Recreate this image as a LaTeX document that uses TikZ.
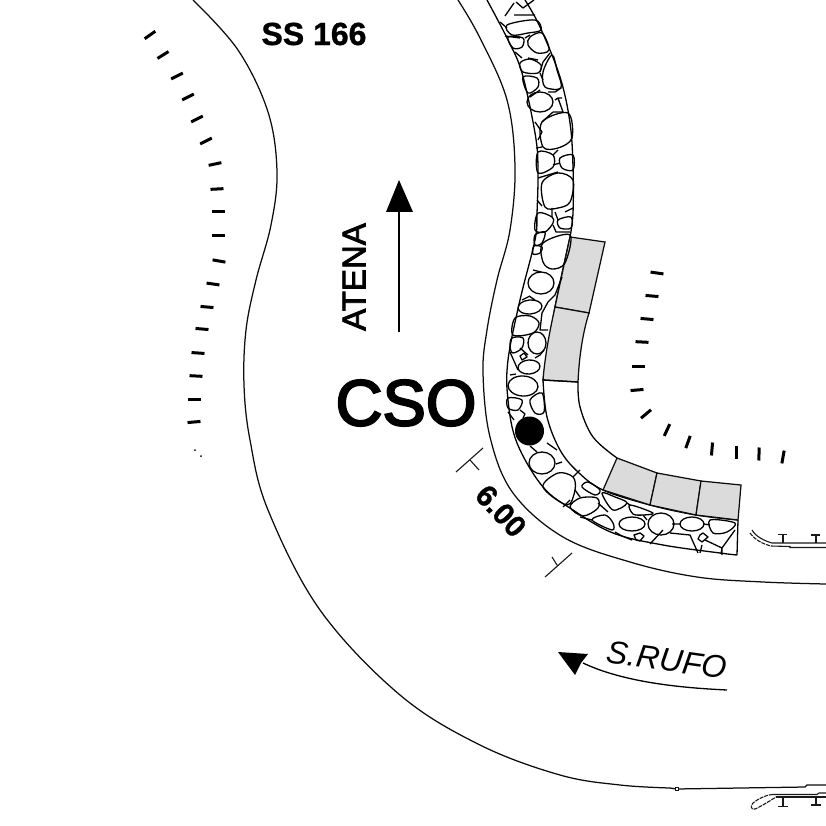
\documentclass[tikz,border=0pt]{standalone}
\usepackage{fontspec}
\setmainfont{Liberation Sans}
\newfontfamily\fatA[FakeBold=2.4]{Liberation Sans}
\newfontfamily\fatB[FakeBold=3.2]{Liberation Sans}
\newfontfamily\fatC[FakeBold=1.0,BoldFont={Liberation Sans Bold}]{Liberation Sans Bold}
\tikzset{
  road/.style={line width=1.25pt,black!95},
  stone/.style={line width=1.3pt,black,line join=round},
  paver/.style={line width=1.25pt,black!95,fill=black!14},
  tick/.style={line width=3pt,black},
  fix/.style={line width=1.1pt,black!90},
  lab/.style={inner sep=0pt,text=black},
}
\newcommand{\tk}[3]{\draw[tick] (#1,#2) ++(#3:-6.5) -- ++(#3:13);}
\newcommand{\stn}[1]{\draw[stone] plot[smooth cycle,tension=0.55] coordinates {#1};}
\newcommand{\elp}[5]{\draw[stone,rotate around={#5:(#1,#2)}] (#1,#2) ellipse (#3 and #4);}
\begin{document}
\begin{tikzpicture}[x=1pt,y=-1pt]
\useasboundingbox (0,0) rectangle (826,826);
\fill[white] (0,0) rectangle (826,826);
% roads
\draw[road] plot[smooth,tension=0.6] coordinates {(193,0) (238,50) (268,112) (277,172) (271,225) (256,280) (246,330) (244,385) (250,440) (268,510) (320,610) (400,695) (480,745) (560,775) (620,785) (670,788)};
\draw[road] (670,788) -- (676,789) -- (805,787) -- (807,785) -- (826,785);
\draw[fix,fill=white] (675.5,787.5) rectangle (678.5,790.5);
\draw[road] plot[smooth,tension=0.6] coordinates {(458,0) (480,38) (507,100) (515,167) (510,230) (497,280) (487,330) (483,373) (490,437) (513,493) (563,537) (630,562) (697,577) (763,582) (826,584)};
% stone band edges
\draw[stone] plot[smooth,tension=0.6] coordinates {(487,0) (508,40) (522,73) (535,133) (538,167) (537,213) (535,240) (520,300) (508,360) (508,400) (517,443) (543,487) (573,510) (613,533) (663,545) (720,553) (737,555)};
\draw[stone] (737,555) -- (738,520);
\draw[stone] plot[smooth,tension=0.6] coordinates {(525,0) (540,27) (560,77) (570,123) (573,167) (573,213) (570,237)};
\draw[stone] plot[smooth,tension=0.6] coordinates {(570,237) (555,307) (543,380)};
\draw[stone] plot[smooth,tension=0.6] coordinates {(543,380) (547,417) (560,450) (578,472) (603,490) (650,505) (696,515) (738,520)};
% pavement
\draw[stone] plot[smooth,tension=0.6] coordinates {(578,382) (580,407) (593,437) (617,458)};
\draw[paver] (570,237) -- (605,242) -- (589,313) -- (555,307) -- cycle;
\draw[paver] (555,307) -- (589,313) .. controls (582,335) and (579,360) .. (578,382) -- (543,380) .. controls (545,355) and (550,330) .. (555,307);
\draw[stone] (543,380) -- (578,382);
\draw[paver] (617,458) -- (657,473) -- (650,505) -- (603,490) -- cycle;
\draw[paver] (657,473) -- (701,481) -- (696,515) -- (650,505) -- cycle;
\draw[paver] (701,481) -- (741,485) -- (738,520) -- (696,515) -- cycle;
% stones, upper stretch
\stn{(507,25) (535,20) (541,30) (528,33) (512,35)}
\stn{(508,37) (523,38) (522,47) (513,48)}
\stn{(530,37) (542,33) (549,50) (537,53) (528,45)}
\stn{(520,63) (530,59) (541,65) (538,73) (523,72)}
\stn{(552,55) (543,72) (545,87) (561,88) (557,70)}
\elp{540}{102}{13}{10}{0}
\stn{(523,77) (537,78) (538,87) (528,93)}
\stn{(542,122) (568,113) (572,138) (558,148) (543,147)}
\stn{(538,152) (553,155) (553,167) (538,173)}
\stn{(560,158) (573,155) (573,170) (562,168)}
\stn{(542,183) (558,173) (573,180) (570,202) (558,208) (545,207)}
\stn{(538,213) (552,217) (553,223) (545,232) (535,230)}
\stn{(558,220) (571,217) (571,228) (560,228)}
\draw[stone] (505,16) -- (514,3) (514,15) -- (535,15) (516,2) -- (523,8) -- (534,0);
\draw[stone] (507,28) -- (500,22) (520,38) -- (505,36) (525,38) -- (530,35);
\draw[stone] (522,58) -- (515,52) (528,58) -- (538,60) (550,53) -- (543,62) -- (540,72);
\draw[stone] (540,73) -- (543,80) (540,90) -- (530,97) (561,88) -- (555,92) -- (548,92);
\draw[stone] (555,100) -- (558,98) -- (562,98) (553,112) -- (563,112) -- (558,98) (553,112) -- (542,122);
\draw[stone] (535,122) -- (542,132) -- (538,140) (536,148) -- (542,147);
\draw[stone] (553,165) -- (560,163) (553,155) -- (558,150);
\draw[stone] (538,178) -- (558,172) (537,200) -- (542,206) (555,212) -- (558,220) (552,208) -- (552,217) (573,208) -- (565,212);
\draw[stone] (553,225) -- (556,232) -- (570,232);
% stones, bend
\stn{(543,243) (570,235) (565,263) (552,269) (543,262)}
\stn{(535,235) (545,232) (542,243) (535,245)}
\stn{(533,254) (540,253) (542,247) (534,246)}
\elp{541}{283}{13}{11}{0}
\elp{530}{307}{12}{7}{5}
\stn{(515,318) (530,316) (539,323) (533,333) (513,335)}
\elp{537}{343}{9}{11}{0}
\stn{(512,338) (523,338) (522,348) (513,353) (510,347)}
\elp{529}{367}{11}{7}{5}
\elp{523}{386}{15}{10}{-3}
\stn{(508,398) (522,400) (518,410) (508,408)}
\stn{(530,400) (542,393) (544,412) (535,413)}
\draw[stone] (520,356) -- (524,353) -- (527,357) -- (522,360) -- cycle;
\draw[stone] (510,352) -- (518,370) (510,375) -- (516,374) (528,355) -- (520,348);
\draw[stone] (520,410) -- (525,414) -- (523,418) (508,412) -- (514,420);
\draw[stone] (533,270) -- (541,272) (562,277) -- (555,295) -- (548,302) -- (542,313) -- (540,330) -- (548,330);
\draw[stone] (529,296) -- (535,300) (522,300) -- (530,296) (540,355) -- (544,350) (535,358) -- (540,355);
\elp{542}{463}{13}{11}{0}
\stn{(543,487) (558,473) (573,477) (575,490) (567,505)}
\stn{(582,487) (588,482) (600,490) (595,495)}
\stn{(570,507) (580,498) (597,498) (598,508) (583,516)}
\stn{(592,520) (605,515) (613,523) (612,530)}
\stn{(602,493) (613,510) (627,503) (615,497)}
\elp{632}{524}{13}{7}{0}
\elp{661}{524}{13}{11}{0}
\elp{692}{524}{12}{7}{0}
\stn{(710,520) (735,523) (727,532) (713,533)}
\stn{(630,505) (653,513) (643,515) (633,514)}
\draw[stone] (634,535) -- (640,533) -- (644,536) -- (640,541) -- (636,540) -- cycle;
\draw[stone] (700,535) -- (703,533) -- (708,537) -- (702,542) -- (698,539) -- cycle;
\draw[stone] (547,443) -- (557,450) (537,452) -- (530,446) (556,464) -- (562,462) (573,477) -- (580,470);
\draw[stone] (575,490) -- (580,497) (563,507) -- (570,500) (580,517) -- (592,520) (598,503) -- (608,512);
\draw[stone] (615,532) -- (622,536) -- (632,540) (650,544) -- (663,530) (670,533) -- (690,535) -- (698,553);
\draw[stone] (702,545) -- (700,553) (705,540) -- (722,548) -- (721,554) (722,555) -- (722,548) -- (735,530);
\draw[stone] (627,503) -- (630,505) (643,515) -- (647,520) (672,524) -- (680,524) (704,524) -- (710,525);
% black point
\fill[black] (529.5,431) circle (14.5);
% ticks
\tk{150}{35}{-35}\tk{163}{55}{-32}\tk{177}{76}{-27}\tk{188}{97}{-27}\tk{197}{119}{-27}\tk{206}{141}{-27}
\tk{215}{164}{-12}\tk{217}{189}{-3}\tk{218}{212}{0}\tk{218}{235}{0}
\tk{219}{261}{10}\tk{213}{284}{8}\tk{207}{307}{5}\tk{202}{329}{5}\tk{198}{353}{4}\tk{196}{376}{3}\tk{194}{399}{0}\tk{194}{422}{-5}
\fill (195,450) circle (1) (201,456) circle (1);
\tk{657}{273}{8}\tk{652}{296}{5}\tk{647}{319}{5}\tk{642}{342}{3}\tk{638}{366}{0}\tk{637}{390}{-5}
\tk{646}{414}{-40}\tk{667}{430}{-65}\tk{688}{442}{-70}\tk{712}{449}{-85}\tk{736}{452}{90}\tk{759}{454}{-88}\tk{783}{457}{-80}
% fixtures right
\draw[fix] (752,530) .. controls (756,537) and (765,541) .. (772,543) -- (826,543);
\draw[fix,dash pattern=on 4pt off 1pt] (750,533) .. controls (755,540) and (763,544) .. (771,546);
\draw[fix] (771,546) -- (790,546.5) -- (790,547.5) -- (826,547.5);
\draw[fix] (783,535) -- (783,543) (778,534.5) -- (787,534.5) (816,535) -- (816,543) (811,535) -- (820,535);
% fixtures bottom
\draw[fix] (773,794.5) -- (817,794.5) -- (819,793) -- (826,793);
\draw[fix] (776,797) -- (826,797);
\draw[fix,dash pattern=on 4pt off 1pt] (773,794.5) .. controls (765,795) and (758,799) .. (753,803) .. controls (750,806) and (751,810) .. (755,809) .. controls (760,807) and (768,802) .. (776,797);
\draw[fix] (783,798) -- (783,806) (778,806.5) -- (788,806.5) (816,798) -- (816,804) (811,805) -- (821,805);
% dimension marks
\draw[fix] (456,472) -- (483,448) (470,460) -- (479,470);
\draw[fix] (545,577) -- (572,553) (557,565) -- (552,557);
% direction arrow
\coordinate (at0) at (399,332);
\coordinate (at1) at (399,212);
\draw[line width=1.2pt] (at0) -- (at1);
\fill (386,212) -- (399,180) -- (413,212) -- cycle;
% curved arrow
\coordinate (ru0) at (727,690);
\coordinate (ru1) at (583,663);
\draw[line width=1.3pt] (ru0) .. controls (685,688) and (625,683) .. (ru1);
\fill (558,652) -- (588,654) -- (581,663) -- (575,675) -- cycle;
% labels
\node[lab] (ss) at (314,34) {\fontsize{32}{32}\fatC SS 166};
\node[lab,rotate=90] (at) at (354,277) {\fontsize{33}{33}\fatA ATENA};
\node[lab] (cso) at (406,403) {\fontsize{65}{65}\fatB CSO};
\node[lab,rotate=-47] (dim) at (501,511) {\fontsize{30}{30}\fatC 6.00};
\node[lab,rotate=-8,font=\itshape] (ru) at (667,660) {\fontsize{32}{32}\selectfont S.RUFO};
\end{tikzpicture}
\end{document}
